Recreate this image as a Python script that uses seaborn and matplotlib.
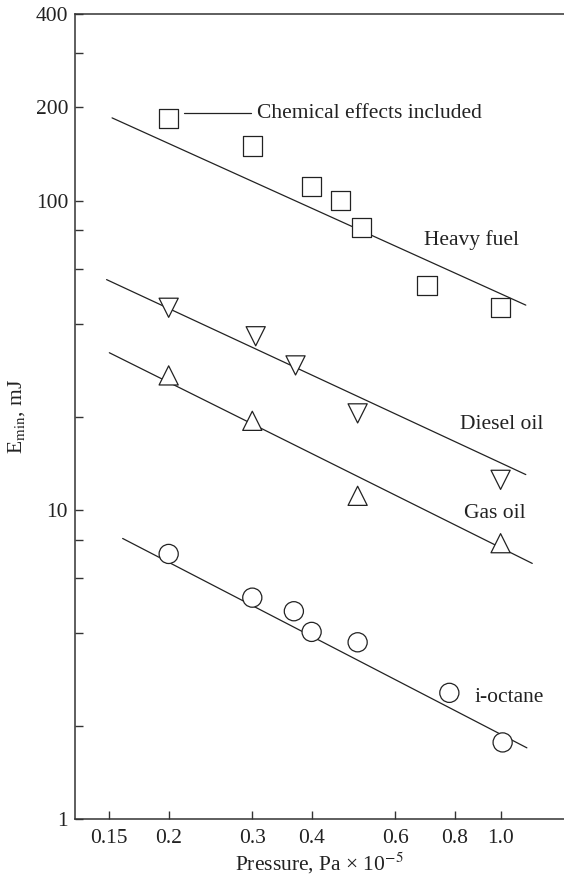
import numpy as np
import pandas as pd
import matplotlib
matplotlib.use("Agg")
import matplotlib.pyplot as plt
import seaborn as sns
from matplotlib.ticker import FixedLocator, NullFormatter

# ---- data (pressure in Pa x 1e-5, E_min in mJ) ----
heavy_p = [0.20, 0.30, 0.40, 0.46, 0.51, 0.70, 1.00]
heavy_e = [184, 150, 111, 100, 82, 53, 45]

diesel_p = [0.20, 0.305, 0.37, 0.50, 1.00]
diesel_e = [45, 36.4, 29.3, 20.5, 12.5]

gasoil_p = [0.20, 0.30, 0.50, 1.00]
gasoil_e = [27.2, 19.4, 11.1, 7.8]

octane_p = [0.20, 0.30, 0.367, 0.40, 0.50, 0.78, 1.01]
octane_e = [7.2, 5.2, 4.7, 4.03, 3.73, 2.56, 1.77]

# fitted lines (end points)
heavy_line_p, heavy_line_e = [0.152, 1.13], [185, 45.9]
diesel_line_p, diesel_line_e = [0.148, 1.13], [55.5, 13.0]
gasoil_line_p, gasoil_line_e = [0.150, 1.166], [32.2, 6.71]
octane_line_p, octane_line_e = [0.160, 1.136], [8.08, 1.70]

markers = {'Heavy fuel': 's', 'Diesel oil': 'v', 'Gas oil': '^', 'i-octane': 'o'}

pts = pd.concat([
    pd.DataFrame({'p': heavy_p, 'e': heavy_e, 'fuel': 'Heavy fuel'}),
    pd.DataFrame({'p': diesel_p, 'e': diesel_e, 'fuel': 'Diesel oil'}),
    pd.DataFrame({'p': gasoil_p, 'e': gasoil_e, 'fuel': 'Gas oil'}),
    pd.DataFrame({'p': octane_p, 'e': octane_e, 'fuel': 'i-octane'}),
], ignore_index=True)

lines = pd.concat([
    pd.DataFrame({'p': heavy_line_p, 'e': heavy_line_e, 'fuel': 'Heavy fuel'}),
    pd.DataFrame({'p': diesel_line_p, 'e': diesel_line_e, 'fuel': 'Diesel oil'}),
    pd.DataFrame({'p': gasoil_line_p, 'e': gasoil_line_e, 'fuel': 'Gas oil'}),
    pd.DataFrame({'p': octane_line_p, 'e': octane_line_e, 'fuel': 'i-octane'}),
], ignore_index=True)

x_ticks = [0.15, 0.2, 0.3, 0.4, 0.6, 0.8, 1.0]
x_ticklabels = ['0.15', '0.2', '0.3', '0.4', '0.6', '0.8', '1.0']
y_ticks = [1, 10, 100, 200, 400]
y_minor = [2, 4, 6, 8, 20, 40, 60, 80, 300]

# label positions (data coords)
labels = {
    'Heavy fuel': (0.691, 74.7),
    'Diesel oil': (0.823, 18.9),
    'Gas oil': (0.837, 9.73),
    'i-octane': (0.882, 2.48),
}

FS = 15.5

# ---- style ----
sns.set_style("ticks")
plt.rcParams['font.family'] = ['Liberation Serif', 'DejaVu Serif']
plt.rcParams['mathtext.fontset'] = 'stix'
plt.rcParams['font.size'] = FS

fig = plt.figure(figsize=(5.64, 8.77), dpi=100)
ax = fig.add_axes([0.133, 0.066, 0.867, 0.9177])

sns.lineplot(data=lines, x='p', y='e', units='fuel', estimator=None,
             color='#222222', linewidth=0.9, ax=ax, legend=False)
sns.scatterplot(data=pts, x='p', y='e', style='fuel', markers=markers,
                s=190, facecolor='white', edgecolor='#222222', linewidth=0.9,
                ax=ax, legend=False, zorder=3)

ax.set_xscale('log')
ax.set_yscale('log')
ax.set_xlim(0.127, 1.36)
ax.set_ylim(1, 400)

ax.xaxis.set_major_locator(FixedLocator(x_ticks))
ax.set_xticklabels(x_ticklabels)
ax.xaxis.set_minor_locator(FixedLocator([]))
ax.yaxis.set_major_locator(FixedLocator(y_ticks))
ax.set_yticklabels([str(v) for v in y_ticks])
ax.yaxis.set_minor_locator(FixedLocator(y_minor))
ax.yaxis.set_minor_formatter(NullFormatter())

ax.tick_params(axis='both', which='both', direction='in', length=6,
               width=1.0, color='#333333', labelsize=FS, labelcolor='#222222')
ax.tick_params(axis='x', pad=7)
ax.tick_params(axis='y', pad=5)

for side in ['left', 'top', 'bottom']:
    ax.spines[side].set_linewidth(1.1)
    ax.spines[side].set_color('#333333')
ax.spines['right'].set_visible(False)

ax.set_xlabel('Pressure, Pa × 10$^{-5}$', fontsize=FS, color='#222222', labelpad=2)
ax.set_ylabel('E$_{\\mathrm{min}}$, mJ', fontsize=FS, color='#222222', labelpad=6)

for name, (lx, ly) in labels.items():
    ax.text(lx, ly, name, ha='left', va='center', fontsize=FS, color='#222222')

# annotation for chemical effects
ax.plot([0.2156, 0.298], [191.8, 191.8], color='#222222', linewidth=0.9)
ax.text(0.307, 191, 'Chemical effects included', ha='left', va='center',
        fontsize=FS, color='#222222')

fig.savefig('out.png', dpi=100)
